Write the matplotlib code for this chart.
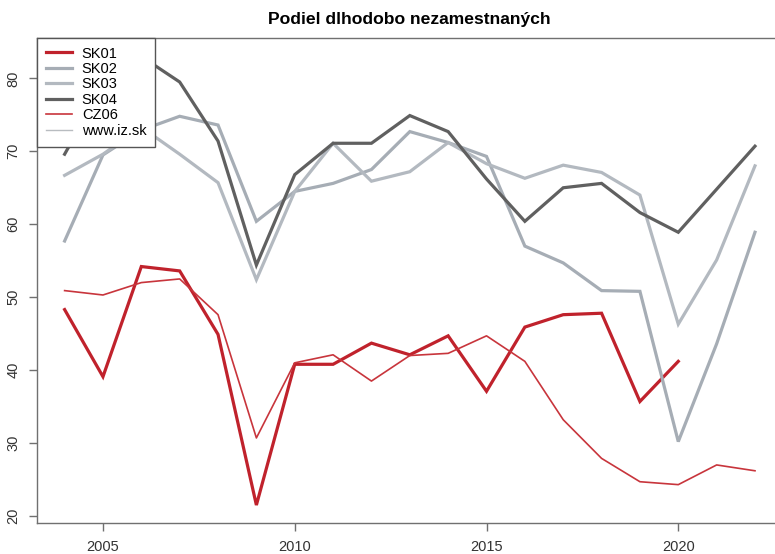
import numpy as np
import matplotlib
matplotlib.use("Agg")
import matplotlib.pyplot as plt

# data
years = list(range(2004, 2023))
sk01 = [48.3, 39.1, 54.2, 53.6, 44.9, 21.5, 40.8, 40.8, 43.7, 42.1, 44.7, 37.1,
        45.9, 47.6, 47.8, 35.7, 41.2, np.nan, np.nan]
sk02 = [57.7, 69.5, 72.9, 74.8, 73.6, 60.4, 64.5, 65.6, 67.5, 72.7, 71.2, 69.3,
        57.0, 54.7, 50.9, 50.8, 30.2, 43.6, 58.9]
sk03 = [66.7, 69.6, 73.3, 69.6, 65.7, 52.4, 64.5, 71.1, 65.9, 67.2, 71.2, 68.3,
        66.3, 68.1, 67.1, 64.0, 46.3, 55.1, 68.0]
sk04 = [69.6, 79.0, 83.0, 79.5, 71.4, 54.4, 66.8, 71.1, 71.1, 74.9, 72.7, 66.2,
        60.4, 65.0, 65.6, 61.6, 58.9, 64.8, 70.7]
cz06 = [50.9, 50.3, 52.0, 52.5, 47.6, 30.7, 41.0, 42.1, 38.5, 42.0, 42.3, 44.7,
        41.2, 33.2, 27.9, 24.7, 24.3, 27.0, 26.2]
x_ticks = [2005, 2010, 2015, 2020]
y_ticks = [20, 30, 40, 50, 60, 70, 80]
title = "Podiel dlhodobo nezamestnaných"

plt.rcParams['font.family'] = ['Liberation Sans', 'DejaVu Sans']

fig = plt.figure(figsize=(7.75, 5.54), dpi=100)
ax = fig.add_axes([37 / 775, 1 - 523.3 / 554, (782.6 - 37) / 775, (523.3 - 37.5) / 554])

ax.plot(years, sk01, color='#c0222c', lw=2.3, label='SK01', solid_joinstyle='miter')
ax.plot(years, sk02, color='#a6adb5', lw=2.3, label='SK02', solid_joinstyle='miter')
ax.plot(years, sk03, color='#b3b9c0', lw=2.3, label='SK03', solid_joinstyle='miter')
ax.plot(years, sk04, color='#606060', lw=2.3, label='SK04', solid_joinstyle='miter')
ax.plot(years, cz06, color='#c8353c', lw=1.2, label='CZ06')
ax.plot([], [], color='#b8bcc0', lw=1.0, label='www.iz.sk')

ax.set_xlim(2003.28, 2022.72)
ax.set_ylim(19.0, 85.6)
ax.set_xticks(x_ticks)
ax.set_yticks(y_ticks)
ax.set_yticklabels([str(v) for v in y_ticks], rotation=90, va='center')

for side in ['left', 'bottom', 'top']:
    ax.spines[side].set_color('#707070')
    ax.spines[side].set_linewidth(1.0)
ax.spines['right'].set_visible(False)
ax.tick_params(colors='#333333', labelsize=10.5, length=6, width=1.0, pad=6)
ax.tick_params(axis='both', color='#707070')

ax.set_title(title, fontsize=12.6, fontweight='bold', pad=10)

leg = ax.legend(loc='upper left', bbox_to_anchor=(0, 1), borderaxespad=0,
                fancybox=False, framealpha=1, fontsize=10.5, handlelength=1.75,
                handletextpad=0.7, labelspacing=0.1, borderpad=0.62)
leg.get_frame().set_edgecolor('#555555')
leg.get_frame().set_linewidth(1.0)

fig.savefig('out.png', dpi=100)
